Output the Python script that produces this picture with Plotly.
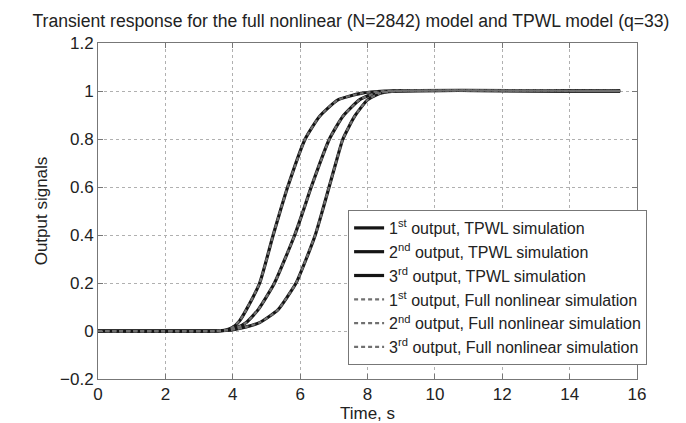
import plotly.graph_objects as go

# ---- data ----
t1 = [0, 3.5, 3.8, 4.0, 4.2, 4.4, 4.8, 5.2, 5.41, 5.63, 6.15, 6.58, 7.12, 7.8, 8.5, 15.5]
y1 = [0, 0, 0.004, 0.015, 0.042, 0.088, 0.2, 0.4, 0.5, 0.6, 0.8, 0.895, 0.963, 0.99, 1, 1]

t2 = [0, 3.5, 3.8, 4.1, 4.4, 4.75, 5.24, 5.84, 6.09, 6.33, 6.87, 7.27, 7.76, 8.2, 8.8, 15.5]
y2 = [0, 0, 0.003, 0.012, 0.035, 0.088, 0.2, 0.4, 0.5, 0.6, 0.8, 0.895, 0.963, 0.99, 1, 1]

t3 = [0, 3.5, 3.8, 4.1, 4.4, 4.8, 5.34, 5.88, 6.18, 6.45, 6.66, 6.86, 7.06, 7.27, 7.62, 8.0, 8.36, 8.9, 15.5]
y3 = [0, 0, 0.002, 0.008, 0.017, 0.035, 0.088, 0.2, 0.3, 0.4, 0.5, 0.6, 0.7, 0.8, 0.895, 0.963, 0.99, 1, 1]

tpwl_names = ["1<sup>st</sup> output, TPWL simulation",
              "2<sup>nd</sup> output, TPWL simulation",
              "3<sup>rd</sup> output, TPWL simulation"]
full_names = ["1<sup>st</sup> output, Full nonlinear simulation",
              "2<sup>nd</sup> output, Full nonlinear simulation",
              "3<sup>rd</sup> output, Full nonlinear simulation"]

x_ticks = [0, 2, 4, 6, 8, 10, 12, 14, 16]
y_ticks = [-0.2, 0, 0.2, 0.4, 0.6, 0.8, 1, 1.2]
y_ticktext = ["\u22120.2", "0", "0.2", "0.4", "0.6", "0.8", "1", "1.2"]

series = [(t1, y1), (t2, y2), (t3, y3)]

fig = go.Figure()
for (t, y), name in zip(series, tpwl_names):
    fig.add_trace(go.Scatter(x=t, y=y, mode="lines", name=name,
                             line=dict(color="#151515", width=3.2, shape="spline", smoothing=0.5)))
for (t, y), name in zip(series, full_names):
    fig.add_trace(go.Scatter(x=t, y=y, mode="lines", name=name,
                             line=dict(color="#707070", width=2.2, dash="4px,3px",
                                       shape="spline", smoothing=0.5)))

axis_common = dict(showline=True, linecolor="#777777", linewidth=1, mirror="ticks",
                   ticks="inside", ticklen=5, tickcolor="#777777",
                   showgrid=True, gridcolor="#b0b0b0", griddash="dot", gridwidth=1,
                   zeroline=False, tickfont=dict(size=17, color="#222222"))

fig.update_layout(
    width=686, height=423,
    margin=dict(l=90, r=57, t=35, b=44),
    paper_bgcolor="white", plot_bgcolor="white",
    font=dict(family="Liberation Sans, Arial, sans-serif", color="#222222"),
    title=dict(text="Transient response for the full nonlinear (N=2842) model and TPWL model (q=33)",
               x=0.5, xanchor="center", y=1 - 13 / 423, yanchor="middle", yref="container",
               font=dict(size=17.6, color="#222222")),
    xaxis=dict(range=[0, 16], tickvals=x_ticks,
               title=dict(text="Time, s", font=dict(size=17), standoff=3), **axis_common),
    yaxis=dict(range=[-0.2, 1.2], tickvals=y_ticks, ticktext=y_ticktext,
               title=dict(text="Output signals", font=dict(size=17), standoff=8), **axis_common),
    legend=dict(x=0.464, y=0.503, xanchor="left", yanchor="top",
                bgcolor="white", bordercolor="#777777", borderwidth=1,
                font=dict(size=16, color="#222222"), itemwidth=30,
                tracegroupgap=0),
    showlegend=True,
)

fig.write_html("out.html")
